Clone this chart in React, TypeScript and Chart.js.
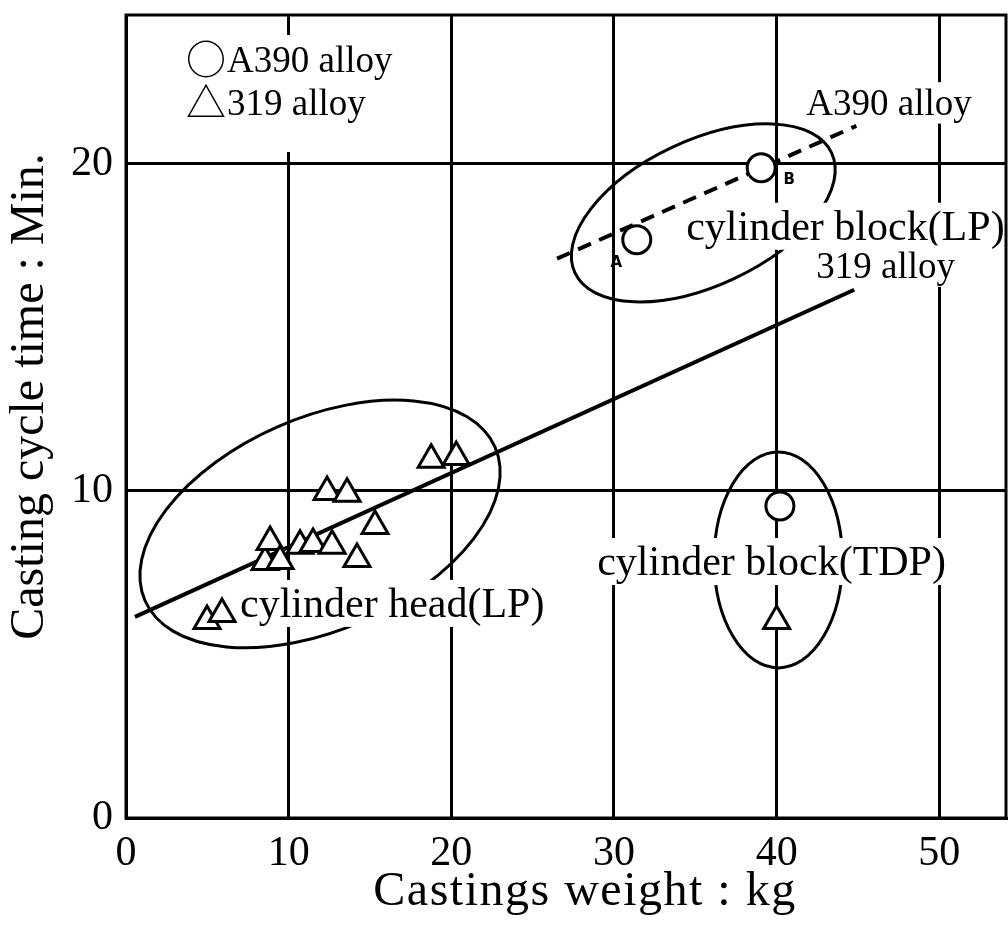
import { useEffect, useRef } from 'react';
import { Chart, registerables } from 'chart.js';

Chart.register(...registerables);

// 319 alloy castings (open triangles): weight in kg, cycle time in min.
// Points listed first are drawn first, so later ones sit on top of them.
const alloy319Weight = [12.36, 8.55, 10.7, 4.98, 18.76, 20.3, 13.59, 15.31, 8.86, 9.47, 11.5, 12.67, 14.2, 5.9, 40.0];
const alloy319Time = [9.97, 7.83, 8.32, 6.02, 10.95, 11.04, 9.91, 8.93, 8.44, 7.86, 8.38, 8.32, 7.92, 6.24, 6.02];

// A390 alloy castings (open circles)
const alloyA390Weight = [31.4, 39.05, 40.2];
const alloyA390Time = [17.68, 19.88, 9.54];

// End points of the two trend lines
const trend319Weight = [0.55, 44.77];
const trend319Time = [6.15, 16.15];
const trendA390Weight = [26.5, 44.9];
const trendA390Time = [17.1, 21.16];

// Axis ticks and ranges
const weightTicks = [0, 10, 20, 30, 40, 50];
const timeTicks = [0, 10, 20];
const weightMax = 54.1;
const timeMax = 24.55;

// Outlines around the casting groups: centre in data units,
// radii in weight units, tilt in degrees
const groupOutlines = [
  { cx: 11.93, cy: 8.99, rx: 11.75, ry: 6.52, tilt: -23.7 },
  { cx: 35.49, cy: 18.5, rx: 8.71, ry: 4.46, tilt: -25.1 },
  { cx: 40.1, cy: 7.89, rx: 3.94, ry: 6.64, tilt: 0 },
];

// Text notes placed on the plot (left edge / baseline in data units)
const notes = [
  { text: 'A390 alloy', x: 41.82, y: 21.5, size: 37 },
  { text: 'cylinder block(LP)', x: 34.44, y: 17.68, size: 42 },
  { text: '319 alloy', x: 42.44, y: 16.51, size: 37 },
  { text: 'cylinder block(TDP)', x: 28.97, y: 7.43, size: 42 },
  { text: 'cylinder head(LP)', x: 7.01, y: 6.15, size: 42 },
];

// Small point markers A and B on the A390 line
const pointTags = [
  { text: 'A', x: 30.14, y: 16.97 },
  { text: 'B', x: 40.78, y: 19.51 },
];

const SERIF = '"Liberation Serif", "Times New Roman", serif';
const CJK = '"Noto Sans CJK JP", "DejaVu Sans", sans-serif';

const toPoints = (xs: number[], ys: number[]) => xs.map((x, i) => ({ x, y: ys[i] }));

const noScalePadding = (scale: any) => {
  scale.paddingTop = 0;
  scale.paddingBottom = 0;
  scale.paddingLeft = 0;
  scale.paddingRight = 0;
};

const overlayPlugin = {
  id: 'overlay',
  beforeDatasetsDraw(chart: any) {
    const { ctx, chartArea: area, scales } = chart;
    const xs = scales.x;
    const ys = scales.y;
    const unit = xs.getPixelForValue(1) - xs.getPixelForValue(0);
    ctx.save();

    // group outlines
    ctx.strokeStyle = '#000';
    ctx.lineWidth = 3;
    groupOutlines.forEach((o) => {
      ctx.beginPath();
      ctx.ellipse(
        xs.getPixelForValue(o.cx),
        ys.getPixelForValue(o.cy),
        o.rx * unit,
        o.ry * unit,
        (o.tilt * Math.PI) / 180,
        0,
        Math.PI * 2
      );
      ctx.stroke();
    });

    // notes on white backing
    ctx.textAlign = 'left';
    ctx.textBaseline = 'alphabetic';
    notes.forEach((n) => {
      ctx.font = `${n.size}px ${SERIF}`;
      const px = xs.getPixelForValue(n.x);
      const py = ys.getPixelForValue(n.y);
      const w = ctx.measureText(n.text).width;
      ctx.fillStyle = '#fff';
      ctx.fillRect(px - 4, py - n.size * 0.88, w + 8, n.size * 1.12);
      ctx.fillStyle = '#000';
      ctx.fillText(n.text, px, py);
    });

    // legend block in the upper left corner
    const lx = area.left + 62;
    const ly1 = area.top + 57;
    const ly2 = area.top + 100;
    ctx.fillStyle = '#fff';
    ctx.fillRect(area.left + 54, area.top + 20, 240, 117);
    ctx.fillStyle = '#000';
    ctx.font = `40px ${CJK}`;
    ctx.fillText('○', lx - 2, ly1 + 2);
    ctx.fillText('△', lx - 2, ly2 + 2);
    ctx.font = `37px ${SERIF}`;
    ctx.fillText('A390 alloy', lx + 39, ly1);
    ctx.fillText('319 alloy', lx + 39, ly2);

    // tags A and B
    ctx.font = `bold 15px "DejaVu Sans", sans-serif`;
    ctx.textAlign = 'center';
    ctx.textBaseline = 'middle';
    pointTags.forEach((t) => {
      ctx.fillText(t.text, xs.getPixelForValue(t.x), ys.getPixelForValue(t.y));
    });

    // plot frame
    ctx.lineWidth = 3;
    ctx.strokeRect(area.left, area.top, area.right - area.left, area.bottom - area.top);
    ctx.restore();
  },
  afterDraw(chart: any) {
    const { ctx, chartArea: area } = chart;
    ctx.save();
    ctx.fillStyle = '#000';
    ctx.textAlign = 'center';
    ctx.textBaseline = 'middle';

    // x axis title
    ctx.font = `48px ${SERIF}`;
    (ctx as any).letterSpacing = '1.5px';
    ctx.fillText('Castings weight : kg', (area.left + area.right) / 2 + 19, area.bottom + 74);
    (ctx as any).letterSpacing = '0px';

    // y axis title
    ctx.translate(30, (area.top + area.bottom) / 2 - 20);
    ctx.rotate(-Math.PI / 2);
    ctx.fillText('Casting cycle time : Min.', 0, 0);
    ctx.restore();
  },
};

export default function App() {
  const canvasRef = useRef<HTMLCanvasElement | null>(null);

  useEffect(() => {
    document.body.style.margin = '0';
    const canvas = canvasRef.current;
    if (!canvas) return;

    const chart = new Chart(canvas, {
      type: 'scatter',
      data: {
        datasets: [
          {
            label: '319 alloy',
            data: toPoints(alloy319Weight, alloy319Time),
            pointStyle: 'triangle',
            pointRadius: 15,
            pointBackgroundColor: '#fff',
            pointBorderColor: '#000',
            pointBorderWidth: 3,
            showLine: false,
            order: 1,
          },
          {
            label: 'A390 alloy',
            data: toPoints(alloyA390Weight, alloyA390Time),
            pointStyle: 'circle',
            pointRadius: 14,
            pointBackgroundColor: '#fff',
            pointBorderColor: '#000',
            pointBorderWidth: 3,
            showLine: false,
            order: 1,
          },
          {
            label: '319 alloy trend',
            data: toPoints(trend319Weight, trend319Time),
            showLine: true,
            borderColor: '#000',
            borderWidth: 4,
            pointRadius: 0,
            fill: false,
            order: 2,
          },
          {
            label: 'A390 alloy trend',
            data: toPoints(trendA390Weight, trendA390Time),
            showLine: true,
            borderColor: '#000',
            borderWidth: 4,
            borderDash: [14, 9],
            pointRadius: 0,
            fill: false,
            order: 2,
          },
        ],
      },
      options: {
        responsive: true,
        maintainAspectRatio: false,
        animation: false,
        events: [],
        layout: { autoPadding: false, padding: { top: 15, right: 2, bottom: 0, left: 0 } },
        plugins: {
          legend: { display: false },
          tooltip: { enabled: false },
        },
        scales: {
          x: {
            type: 'linear',
            min: 0,
            max: weightMax,
            afterBuildTicks: (scale: any) => {
              scale.ticks = weightTicks.map((value) => ({ value }));
            },
            afterFit: (scale: any) => {
              scale.height = 111;
              noScalePadding(scale);
            },
            ticks: {
              color: '#000',
              padding: 11,
              font: { family: SERIF, size: 42 },
              maxRotation: 0,
            },
            grid: { color: '#000', lineWidth: 3, drawTicks: false },
            border: { color: '#000', width: 3 },
          },
          y: {
            type: 'linear',
            min: 0,
            max: timeMax,
            afterBuildTicks: (scale: any) => {
              scale.ticks = timeTicks.map((value) => ({ value }));
            },
            afterFit: (scale: any) => {
              scale.width = 126;
              noScalePadding(scale);
            },
            ticks: {
              color: '#000',
              padding: 13,
              font: { family: SERIF, size: 42 },
            },
            grid: { color: '#000', lineWidth: 3, drawTicks: false },
            border: { color: '#000', width: 3 },
          },
        },
      },
      plugins: [overlayPlugin],
    });

    return () => chart.destroy();
  }, []);

  return (
    <div style={{ position: 'relative', width: 1008, height: 929, background: '#fff' }}>
      <canvas ref={canvasRef} style={{ display: 'block' }} />
    </div>
  );
}
